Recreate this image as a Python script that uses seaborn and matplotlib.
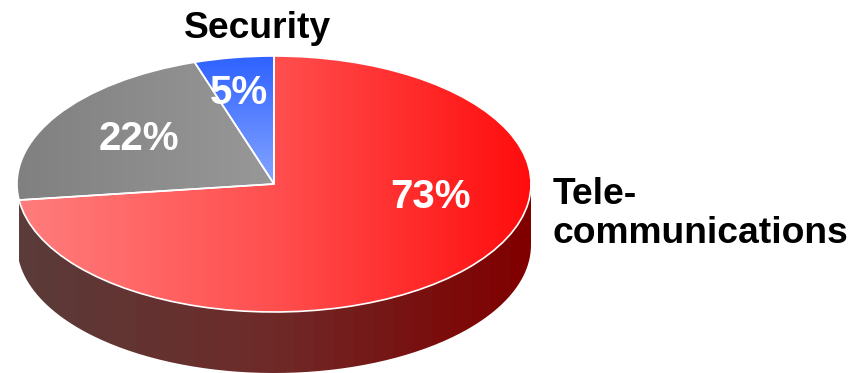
import numpy as np
import matplotlib
matplotlib.use("Agg")
import matplotlib.pyplot as plt
from matplotlib.path import Path
from matplotlib.patches import PathPatch
import seaborn as sns

# Market share by sector
sectors = ["Tele-\ncommunications", "", "Security"]
shares = [73, 22, 5]

# Top-face gradient stops per slice, and the wall gradient
red_stops = ["#ff7d7d", "#ff4f4f", "#ff0d0d"]
gray_stops = ["#808080", "#989898"]
blue_stops = ["#85a5ff", "#2f62ff"]
wall_stops = ["#5a3b39", "#6e2a28", "#800000"]

sns.set_theme(style="white")
plt.rcParams["font.family"] = ["Liberation Sans", "DejaVu Sans"]

W, H = 854, 373
CX, CY, RX, RY = 274, 184, 257, 128   # ellipse of the top face, in pixels
DEPTH = 61 / RY                       # wall height in data units

fig = plt.figure(figsize=(W / 100, H / 100), dpi=100, facecolor="white")
ax = fig.add_axes([0, 0, 1, 1])

wedges, _ = ax.pie(
    shares, startangle=90, counterclock=False, radius=1,
    wedgeprops=dict(facecolor="none", edgecolor="white", linewidth=1.2, zorder=5),
)
ax.set_aspect("auto")


def gradient(stops, extent, clip, vertical=False, levels=256, zorder=2):
    """Paint a blended colour ramp over extent, clipped to a patch."""
    cmap = sns.blend_palette(stops, as_cmap=True).resampled(levels)
    ramp = np.linspace(0, 1, levels)
    data = ramp[:, None] if vertical else ramp[None, :]
    im = ax.imshow(data, extent=extent, origin="lower", cmap=cmap, vmin=0, vmax=1,
                   aspect="auto", interpolation="bilinear" if levels > 64 else "nearest",
                   zorder=zorder)
    im.set_clip_path(clip)


# Side wall: the front arc of the first slice, extruded downwards
end_t = np.deg2rad(shares[0] / sum(shares) * 360)
t = np.linspace(np.pi / 2, end_t, 200)
xs, ys = np.sin(t), np.cos(t)
verts = np.r_[np.c_[xs, ys], np.c_[xs, ys - DEPTH][::-1], [[xs[0], ys[0]]]]
wall = PathPatch(Path(verts), facecolor="none", edgecolor="none", zorder=1)
ax.add_patch(wall)
gradient(wall_stops, (-1, 1, -1 - DEPTH, 0), wall, levels=26, zorder=1)

# Top faces
gradient(red_stops, (-1, 1, -1, 1), wedges[0])
gradient(gray_stops, (-1, 0, -0.2, 1), wedges[1])
gradient(blue_stops, (-0.31, 0, 0, 1), wedges[2], vertical=True)

ax.set_xlim(-CX / RX, (W - CX) / RX)
ax.set_ylim((CY - H) / RY, CY / RY)
ax.axis("off")


def put(px, py, text, color, size, ha="center", linespacing=1.18):
    ax.text(px / W, 1 - py / H, text, transform=ax.transAxes, color=color,
            fontsize=size, fontweight="bold", ha=ha, va="center",
            linespacing=linespacing, zorder=8)


put(431, 197, f"{shares[0]}%", "white", 29)
put(139, 139, f"{shares[1]}%", "white", 29)
put(239, 93, f"{shares[2]}%", "white", 29)

# Sector names
put(258, 29, sectors[2], "black", 26.8)
put(553, 214, sectors[0], "black", 26.8, ha="left")

fig.savefig("out.png", dpi=100, facecolor="white")
